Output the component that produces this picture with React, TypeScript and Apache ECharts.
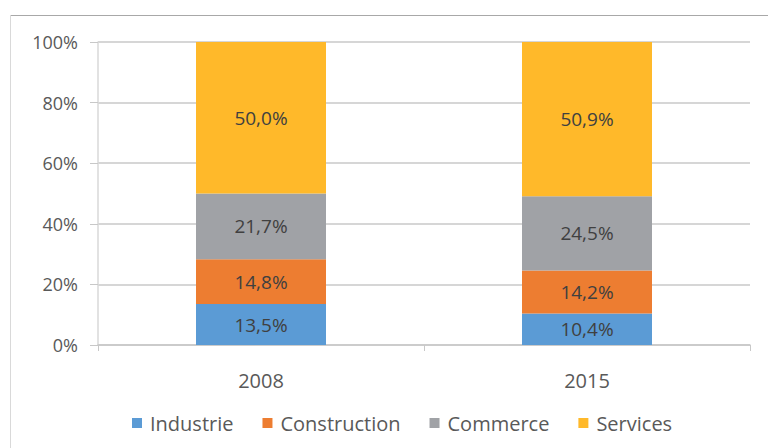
import React, { useEffect, useRef } from "react";
import * as echarts from "echarts";

const categories = ["2008", "2015"];
const seriesNames = ["Industrie", "Construction", "Commerce", "Services"];
const industrie = [13.5, 10.4];
const construction = [14.8, 14.2];
const commerce = [21.7, 24.5];
const services = [50.0, 50.9];
const yTicks = [0, 20, 40, 60, 80, 100];
const colors = ["#5B9BD5", "#ED7D31", "#A0A2A6", "#FFB92A"];

export default function App() {
  const ref = useRef<HTMLDivElement>(null);
  useEffect(() => {
    if (!ref.current) return;
    const chart = echarts.init(ref.current, undefined, { renderer: "svg" });
    const font = "'Open Sans', 'Noto Sans', sans-serif";
    const values = [industrie, construction, commerce, services];
    chart.setOption({
      animation: false,
      backgroundColor: "#ffffff",
      textStyle: { fontFamily: font },
      graphic: [
        { type: "line", shape: { x1: 10, y1: 15.5, x2: 768, y2: 15.5 }, style: { stroke: "#a8a8a8", lineWidth: 1 } },
        { type: "line", shape: { x1: 10.5, y1: 15, x2: 10.5, y2: 448 }, style: { stroke: "#d9d9d9", lineWidth: 1 } },
      ],
      grid: { left: 98, right: 18, top: 42, bottom: 103, containLabel: false },
      legend: {
        bottom: 10,
        left: 127,
        icon: "rect",
        itemWidth: 10,
        itemHeight: 10,
        itemGap: 29,
        data: seriesNames,
        textStyle: { fontSize: 20, color: "#595959", fontFamily: font, padding: [0, 0, 0, 3] },
      },
      xAxis: {
        type: "category",
        data: categories,
        axisLine: { show: true, lineStyle: { color: "#c8c8c8", width: 1.5 } },
        axisTick: { show: true, length: 6, alignWithLabel: false, lineStyle: { color: "#c8c8c8" } },
        axisLabel: { fontSize: 20, color: "#595959", margin: 25, fontFamily: font },
      },
      yAxis: {
        type: "value",
        min: 0,
        max: yTicks[yTicks.length - 1],
        interval: yTicks[1] - yTicks[0],
        axisLine: { show: true, lineStyle: { color: "#d9d9d9", width: 1.5 } },
        axisTick: { show: true, length: 8, lineStyle: { color: "#c8c8c8" } },
        axisLabel: { fontSize: 18, color: "#595959", margin: 20, formatter: (v: number) => v + "%", fontFamily: font },
        splitLine: { show: true, lineStyle: { color: "#c8c8c8", width: 1.5 } },
      },
      series: seriesNames.map((name, i) => ({
        name,
        type: "bar",
        stack: "total",
        barWidth: 130,
        data: values[i],
        itemStyle: { color: colors[i] },
        label: {
          show: true,
          position: "inside",
          fontSize: 19,
          color: "#404040",
          fontFamily: font,
          formatter: (p: any) => p.value.toFixed(1).replace(".", ",") + "%",
        },
      })),
    });
    return () => chart.dispose();
  }, []);
  return <div ref={ref} style={{ width: 768, height: 448, position: "absolute", left: 0, top: 0 }} />;
}
